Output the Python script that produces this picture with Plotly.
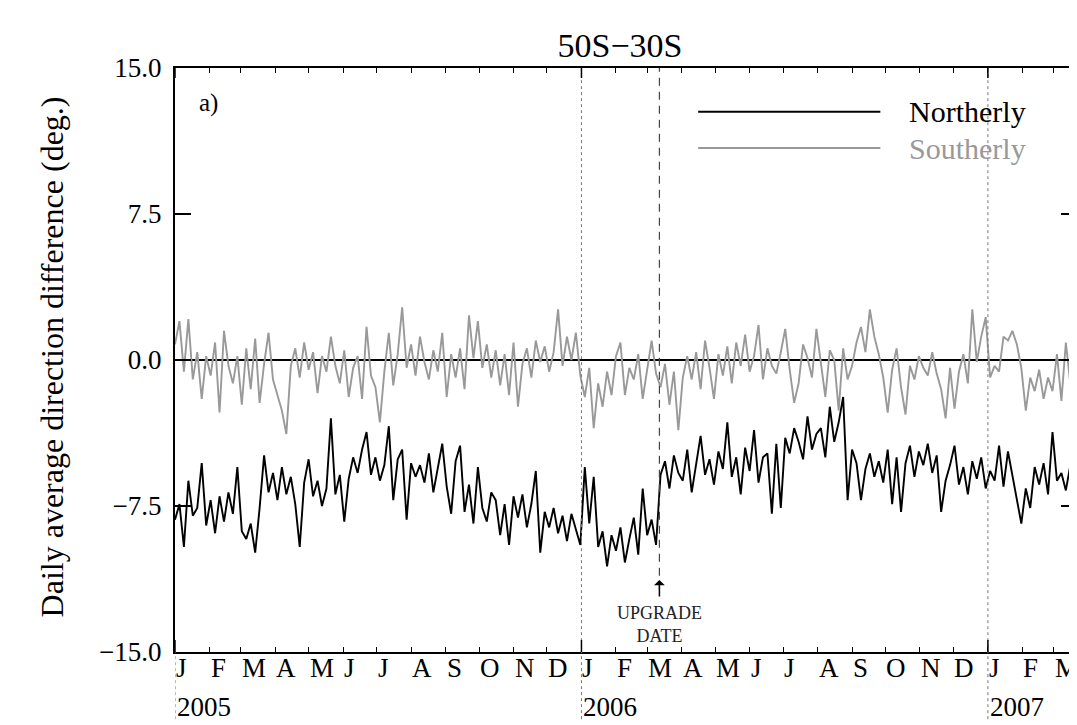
import pandas as pd
import plotly.graph_objects as go

start_date = "2005-01-01"
step_days = 4
northerly = [
    -8.2, -7.4, -9.6, -6.2, -8.0,
    -7.6, -5.3, -8.5, -7.2, -8.9,
    -7.0, -8.3, -6.8, -7.9, -5.5,
    -8.8, -9.2, -8.4, -9.9, -7.6,
    -4.9, -6.8, -5.8, -7.2, -5.5,
    -6.9, -6.0, -7.4, -9.6, -6.3,
    -5.1, -7.0, -6.2, -7.5, -6.6,
    -3.0, -6.9, -5.9, -8.3, -6.1,
    -5.0, -5.8, -4.6, -3.7, -5.9,
    -5.0, -6.2, -5.4, -3.4, -7.2,
    -5.1, -4.6, -8.2, -5.3, -6.0,
    -5.4, -6.3, -4.8, -6.8, -5.6,
    -4.3, -6.5, -7.9, -5.2, -4.4,
    -7.8, -6.4, -8.4, -5.5, -7.6,
    -8.3, -6.8, -7.2, -9.0, -7.4,
    -9.5, -7.0, -8.1, -6.9, -8.6,
    -7.4, -5.7, -9.9, -7.8, -8.6,
    -7.6, -8.9, -8.0, -9.3, -7.9,
    -8.7, -9.5, -5.5, -8.4, -6.0,
    -9.6, -8.8, -10.6, -9.0, -9.8,
    -8.6, -10.4, -9.2, -8.1, -10.0,
    -6.6, -9.0, -8.2, -9.5,
    -5.9,
    -5.2, -6.6, -4.9, -5.8, -6.2,
    -4.6, -6.8, -5.3, -3.9, -5.9,
    -5.1, -6.4, -4.7, -5.6, -3.2,
    -6.0, -5.0, -6.9, -4.5, -5.7,
    -3.6, -6.3, -5.0, -4.8, -7.9,
    -4.3, -7.6, -4.0, -4.8, -3.5,
    -4.2, -5.1, -2.9, -4.6, -3.8,
    -3.5, -5.0, -2.4, -4.2, -3.2,
    -1.9, -7.2, -4.6, -5.3, -7.2,
    -5.6, -4.8, -6.0, -5.2, -6.3,
    -4.6, -7.4, -5.0, -7.8, -5.3,
    -4.4, -6.0, -4.7, -5.4, -4.3,
    -5.8, -4.9, -7.8, -6.2, -5.4,
    -4.4, -6.4, -5.5, -6.9, -5.2,
    -6.1, -5.0, -6.6, -5.7, -6.2,
    -4.4, -6.5, -4.7, -6.0, -7.2,
    -8.4, -6.6, -7.6, -5.5, -6.4,
    -5.3, -6.9, -3.7, -6.2, -5.8,
    -6.7, -5.4, -6.3,
]
southerly = [
    0.8, 2.0, -0.6, 2.1, -1.0,
    0.4, -2.0, 0.2, -0.8, 0.9,
    -2.7, 1.5, -0.3, -1.2, 0.2,
    -2.3, 0.6, -1.5, 1.1, -2.2,
    -0.2, 1.4, -1.0, -1.8, -2.6,
    -3.8, -0.3, 0.6, -0.9, 0.9,
    -0.5, 0.4, -1.7, 0.2, -0.6,
    1.2, -0.3, -1.2, 0.5, -1.9,
    -0.4, 0.2, -2.0, 1.7, -0.8,
    -1.4, -3.2, -0.6, 1.4, -1.3,
    0.3, 2.7, -0.4, 0.8, -0.8,
    1.2, -0.1, -1.0, 0.5, -0.6,
    1.4, -1.9, 0.3, -0.9, 0.6,
    -1.5, 2.3, 0.1, 2.0, -0.4,
    0.8, -0.9, 0.5, -1.3, 0.3,
    -1.8, 0.9, -2.4, -0.2, 0.6,
    -0.9, 1.0, -0.1, 0.7, -0.6,
    0.4, 2.6, -0.3, 1.2, 0.0,
    1.4, -0.8, -1.9, -0.4, -3.5,
    -1.2, -2.4, -0.6, -1.8, 0.2,
    0.9, -1.8, -0.4, -1.0, 0.3,
    -2.0, -0.5, 1.0, -0.7,
    -1.4,
    -0.2, -2.3, -0.6, -3.6, -0.9,
    0.2, -1.0, 0.4, -1.5, 1.0,
    -0.4, -2.0, 0.3, -0.8, 0.7,
    -1.2, 0.9, -0.3, 1.3, -0.6,
    0.2, 1.8, -1.0, 0.6, -0.3,
    -0.7, 0.4, 1.6, -0.5, -2.2,
    -1.2, 0.8, 0.1, -0.9, 1.6,
    -0.2, -1.9, 0.5, 0.0, -2.6,
    0.6, -1.0, -0.3, 0.9, 1.7,
    0.4, 2.6, 1.2, 0.3, -0.9,
    -2.7, -0.5, 0.6, -1.4, -2.8,
    -0.3, -1.0, 0.2, -0.4, -0.8,
    0.4, -0.7, -1.5, -3.0, -0.4,
    -2.5, -0.6, 0.3, -1.2, 2.6,
    -0.1, 1.2, 2.2, -0.9, -0.3,
    -0.6, 1.2, 1.0, 1.5, 0.8,
    -0.4, -2.6, -0.9, -1.6, -0.5,
    -2.0, -0.9, -1.6, 0.3, -2.1,
    0.9, -1.2, -0.3,
]
series_names = ["Northerly", "Southerly"]
month_letters = ["J", "F", "M", "A", "M", "J", "J", "A", "S", "O", "N", "D"]
year_labels = ["2005", "2006", "2007"]
year_starts = ["2005-01-01", "2006-01-01", "2007-01-01"]
upgrade_date = "2006-03-12"
x_end = "2007-03-22"
y_ticks = [15.0, 7.5, 0.0, -7.5, -15.0]
y_ticktext = ["15.0", "7.5", "0.0", "\u22127.5", "\u221215.0"]
title_text = "50S\u221230S"
y_title = "Daily average direction difference (deg.)"

dates = pd.date_range(start_date, periods=len(northerly), freq=f"{step_days}D")
month_starts = pd.date_range(start_date, x_end, freq="MS")

FONT = "Liberation Serif, Times New Roman, serif"
BLACK = "#000000"
GRAY = "#999999"
PLOT_H = 584.0
# the page body has an 8px margin; the figure is sized so that it fills the window
FIG_W, FIG_H = 1069, 717

fig = go.Figure()
fig.add_trace(go.Scatter(x=dates, y=northerly, mode="lines", name=series_names[0],
                         line=dict(color=BLACK, width=1.9), showlegend=False))
fig.add_trace(go.Scatter(x=dates, y=southerly, mode="lines", name=series_names[1],
                         line=dict(color=GRAY, width=1.9), showlegend=False))

# year boundary dotted lines (extend below axis)
for i, ys in enumerate(year_starts):
    top = 0 if i == 0 else 1
    fig.add_shape(type="line", xref="x", yref="paper", x0=ys, x1=ys, y0=-0.115, y1=top,
                  line=dict(color="#777777", width=1, dash="dot"))
    # long year ticks at bottom and top
    fig.add_shape(type="line", xref="x", yref="paper", x0=ys, x1=ys, y0=0, y1=12 / PLOT_H,
                  line=dict(color=BLACK, width=1.5))
    fig.add_shape(type="line", xref="x", yref="paper", x0=ys, x1=ys, y0=1 - 10 / PLOT_H, y1=1,
                  line=dict(color=BLACK, width=1.5))

# upgrade dashed line
fig.add_shape(type="line", xref="x", yref="y", x0=upgrade_date, x1=upgrade_date,
              y0=-11.8, y1=15, line=dict(color="#444444", width=1.2, dash="8px,6px"))

# legend drawn manually
leg_y = [0.925, 0.863]
leg_col = [BLACK, GRAY]
for name, yy, col in zip(series_names, leg_y, leg_col):
    fig.add_shape(type="line", xref="paper", yref="paper", x0=0.58, x1=0.782, y0=yy, y1=yy,
                  line=dict(color=col, width=2))
    fig.add_annotation(xref="paper", yref="paper", x=0.812, y=yy, text=name, showarrow=False,
                       xanchor="left", yanchor="middle", font=dict(family=FONT, size=30, color=col))

fig.add_annotation(xref="paper", yref="paper", x=0.024, y=0.94, text="a)", showarrow=False,
                   xanchor="left", yanchor="middle", font=dict(family=FONT, size=25, color=BLACK))

# upgrade arrow + label
fig.add_annotation(xref="x", yref="y", x=upgrade_date, y=-11.3, ax=0, ay=18, text="",
                   showarrow=True, arrowhead=1, arrowsize=1.2, arrowwidth=1.5, arrowcolor=BLACK)
fig.add_annotation(xref="x", yref="y", x=upgrade_date, y=-13.6, text="UPGRADE<br>DATE",
                   showarrow=False, xanchor="center", yanchor="middle",
                   font=dict(family=FONT, size=18, color="#222222"))

# month letters and years
for d in month_starts:
    fig.add_annotation(xref="x", yref="paper", x=d, y=-0.028, text=month_letters[d.month - 1],
                       showarrow=False, xanchor="left", yanchor="middle", xshift=-1,
                       font=dict(family=FONT, size=27, color=BLACK))
for ys, lab in zip(year_starts, year_labels):
    fig.add_annotation(xref="x", yref="paper", x=ys, y=-0.094, text=lab,
                       showarrow=False, xanchor="left", yanchor="middle", xshift=0,
                       font=dict(family=FONT, size=27, color=BLACK))

# y-axis title
fig.add_annotation(xref="paper", yref="paper", x=-0.136, y=0.505, text=y_title, textangle=-90,
                   showarrow=False, xanchor="center", yanchor="middle",
                   font=dict(family=FONT, size=32, color=BLACK))

fig.update_layout(
    width=FIG_W, height=FIG_H,
    margin=dict(l=167, r=0, t=60, b=73, autoexpand=False),
    paper_bgcolor="white", plot_bgcolor="white",
    title=dict(text=title_text, x=0.5725, xref="container", xanchor="center",
               y=1 - 37 / FIG_H, yref="container", yanchor="middle",
               font=dict(family=FONT, size=34, color=BLACK)),
    showlegend=False,
    font=dict(family=FONT, color=BLACK),
)
fig.update_xaxes(
    range=[start_date, x_end], type="date", automargin=False,
    showgrid=False, zeroline=False,
    showline=True, linecolor=BLACK, linewidth=1.5, mirror="ticks",
    tick0=start_date, dtick="M1", ticks="inside", ticklen=5, tickwidth=1.3, tickcolor=BLACK,
    showticklabels=False,
)
fig.update_yaxes(
    range=[-15, 15], automargin=False,
    showgrid=False, zeroline=True, zerolinecolor=BLACK, zerolinewidth=1.5,
    showline=True, linecolor=BLACK, linewidth=2, mirror="ticks",
    tickmode="array", tickvals=y_ticks, ticktext=y_ticktext,
    ticks="inside", ticklen=16, tickwidth=2, tickcolor=BLACK,
    ticklabelstandoff=6,
    tickfont=dict(family=FONT, size=27, color=BLACK),
)

fig.write_html("out.html")
